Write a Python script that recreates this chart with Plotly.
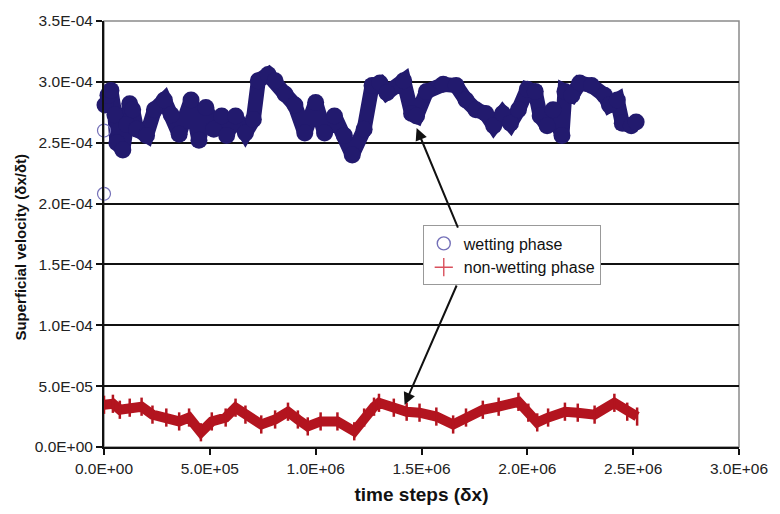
import plotly.graph_objects as go

# Time steps (δx) and superficial velocity (δx/δt) for the wetting phase
wet_t = [0, 0, 4.7e3, 18.7e3, 32.7e3, 51.4e3, 60.7e3, 88.8e3, 107.5e3, 121.5e3,
         135.5e3, 154.2e3, 200.9e3, 238.3e3, 285.0e3, 317.8e3, 355.1e3, 411.2e3, 448.6e3, 481.3e3,
         518.7e3, 556.1e3, 579.4e3, 621.5e3, 668.2e3, 705.6e3, 729.0e3, 775.7e3, 808.4e3, 855.1e3,
         901.9e3, 948.6e3, 1000.0e3, 1042.1e3, 1088.8e3, 1135.5e3, 1172.9e3, 1229.0e3, 1266.4e3, 1303.7e3,
         1336.4e3, 1415.9e3, 1453.3e3, 1476.6e3, 1523.4e3, 1602.8e3, 1663.6e3, 1710.3e3, 1757.0e3, 1803.7e3,
         1841.1e3, 1883.2e3, 1920.6e3, 1958.0e3, 2000.0e3, 2037.4e3, 2060.7e3, 2093.5e3, 2121.5e3, 2163.6e3,
         2177.6e3, 2210.3e3, 2247.7e3, 2303.7e3, 2364.5e3, 2387.9e3, 2425.2e3, 2448.6e3, 2490.7e3, 2514.0e3]
wet_v = [2.08e-4, 2.60e-4, 2.81e-4, 2.89e-4, 2.93e-4, 2.73e-4, 2.50e-4, 2.44e-4, 2.65e-4, 2.82e-4,
         2.77e-4, 2.61e-4, 2.56e-4, 2.77e-4, 2.85e-4, 2.73e-4, 2.57e-4, 2.85e-4, 2.52e-4, 2.79e-4,
         2.61e-4, 2.72e-4, 2.56e-4, 2.72e-4, 2.58e-4, 2.69e-4, 3.01e-4, 3.06e-4, 3.01e-4, 2.90e-4,
         2.81e-4, 2.58e-4, 2.83e-4, 2.58e-4, 2.72e-4, 2.56e-4, 2.40e-4, 2.61e-4, 2.97e-4, 2.99e-4,
         2.91e-4, 3.01e-4, 2.74e-4, 2.72e-4, 2.92e-4, 2.98e-4, 2.97e-4, 2.85e-4, 2.77e-4, 2.74e-4,
         2.64e-4, 2.74e-4, 2.66e-4, 2.77e-4, 2.94e-4, 2.92e-4, 2.72e-4, 2.64e-4, 2.77e-4, 2.56e-4,
         2.92e-4, 2.89e-4, 2.99e-4, 2.97e-4, 2.89e-4, 2.81e-4, 2.85e-4, 2.66e-4, 2.64e-4, 2.67e-4]

# Non-wetting phase
nw_t = [0, 42.1e3, 74.8e3, 121.5e3, 177.6e3, 229.0e3, 294.4e3, 355.1e3, 401.9e3, 457.9e3,
        509.3e3, 574.8e3, 621.5e3, 668.2e3, 742.9e3, 808.4e3, 869.2e3, 915.9e3, 962.6e3, 1023.4e3,
        1102.8e3, 1182.2e3, 1229.0e3, 1275.7e3, 1299.1e3, 1369.2e3, 1429.9e3, 1490.7e3, 1570.1e3, 1649.5e3,
        1710.3e3, 1789.7e3, 1864.5e3, 1958.0e3, 2004.7e3, 2046.7e3, 2098.1e3, 2177.6e3, 2238.3e3, 2317.8e3,
        2411.2e3, 2471.9e3, 2518.7e3]
nw_v = [3.47e-5, 3.55e-5, 3.06e-5, 3.23e-5, 3.31e-5, 2.66e-5, 2.42e-5, 2.10e-5, 2.42e-5, 1.21e-5,
        2.10e-5, 2.42e-5, 3.23e-5, 2.66e-5, 1.85e-5, 2.26e-5, 2.90e-5, 2.26e-5, 1.69e-5, 2.10e-5,
        2.10e-5, 1.29e-5, 2.42e-5, 3.31e-5, 3.63e-5, 3.23e-5, 2.90e-5, 2.82e-5, 2.50e-5, 1.85e-5,
        2.42e-5, 3.06e-5, 3.31e-5, 3.71e-5, 2.82e-5, 2.02e-5, 2.42e-5, 2.90e-5, 2.82e-5, 2.66e-5,
        3.63e-5, 2.90e-5, 2.50e-5]

x_ticks = [0, 5e5, 1e6, 1.5e6, 2e6, 2.5e6, 3e6]
x_labels = ["0.0E+00", "5.0E+05", "1.0E+06", "1.5E+06", "2.0E+06", "2.5E+06", "3.0E+06"]
y_ticks = [0, 5e-5, 1e-4, 1.5e-4, 2e-4, 2.5e-4, 3e-4, 3.5e-4]
y_labels = ["0.0E+00", "5.0E-05", "1.0E-04", "1.5E-04", "2.0E-04", "2.5E-04", "3.0E-04", "3.5E-04"]

NAVY = "#221a6e"
LAVENDER = "#7470b8"
RED = "#b3141f"
PINK = "#d9505c"
FONT = "Arial, Liberation Sans, sans-serif"

fig = go.Figure()

# dense wetting band
fig.add_trace(go.Scatter(
    x=wet_t[2:], y=wet_v[2:], mode="lines+markers",
    line=dict(color=NAVY, width=15),
    marker=dict(symbol="circle", size=17, color=NAVY),
    showlegend=False, cliponaxis=False, hoverinfo="skip"))
# isolated early samples
fig.add_trace(go.Scatter(
    x=wet_t[:2], y=wet_v[:2], mode="markers",
    marker=dict(symbol="circle-open", size=13, color=LAVENDER, line=dict(width=1.2)),
    showlegend=False, cliponaxis=False, hoverinfo="skip"))

# non-wetting band
fig.add_trace(go.Scatter(
    x=nw_t, y=nw_v, mode="lines+markers",
    line=dict(color=RED, width=10),
    marker=dict(symbol="line-ns-open", size=13, color=RED, line=dict(width=2.5, color=RED)),
    showlegend=False, cliponaxis=False, hoverinfo="skip"))

# legend entries
fig.add_trace(go.Scatter(
    x=[None], y=[None], mode="markers", name="wetting phase",
    marker=dict(symbol="circle-open", size=13, color=LAVENDER, line=dict(width=1.4))))
fig.add_trace(go.Scatter(
    x=[None], y=[None], mode="markers", name="non-wetting phase",
    marker=dict(symbol="cross-thin", size=13, color=PINK, line=dict(width=1.4, color=PINK))))

# plot area frame
fig.add_shape(type="rect", xref="paper", yref="paper", x0=0, y0=0, x1=1, y1=1,
              line=dict(color="#8a8a8a", width=1.5), layer="below")

# arrows from the legend to each band
for head, tail in [((1.477e6, 2.62e-4), (1.675e6, 1.79e-4)),
                   ((1.42e6, 3.47e-5), (1.669e6, 1.339e-4))]:
    fig.add_annotation(x=head[0], y=head[1], ax=tail[0], ay=tail[1],
                       xref="x", yref="y", axref="x", ayref="y",
                       text="", showarrow=True, arrowhead=2, arrowsize=1.2,
                       arrowwidth=2, arrowcolor="#111", standoff=0)

# vertical axis title
fig.add_annotation(text="<b>Superficial velocity (δx/δt)</b>", textangle=-90,
                   xref="paper", yref="paper", x=-0.131, y=0.47,
                   xanchor="center", yanchor="middle", showarrow=False,
                   font=dict(size=15, color="#111", family=FONT))

fig.update_layout(
    width=780, height=514,
    margin=dict(l=104, r=34, t=14, b=66),
    paper_bgcolor="white", plot_bgcolor="white",
    font=dict(family=FONT, color="#222", size=15),
    showlegend=True,
    legend=dict(x=0.502, y=0.52, xanchor="left", yanchor="top",
                bgcolor="white", bordercolor="#999", borderwidth=1,
                font=dict(size=16, color="#111", family=FONT),
                itemwidth=30, tracegroupgap=0),
    xaxis=dict(range=[0, 3e6], tickvals=x_ticks, ticktext=x_labels,
               showgrid=False, zeroline=False,
               showline=True, linecolor="#111", linewidth=2,
               ticks="outside", ticklen=6, tickwidth=2, tickcolor="#111",
               tickfont=dict(size=15.5, color="#222"),
               title=dict(text="<b>time steps (δx)</b>", font=dict(size=19, color="#111"), standoff=12)),
    yaxis=dict(range=[0, 3.5e-4], tickvals=y_ticks, ticktext=y_labels,
               showgrid=True, gridcolor="#111", gridwidth=1.6, zeroline=False,
               showline=True, linecolor="#111", linewidth=2,
               ticks="outside", ticklen=6, tickwidth=2, tickcolor="#111",
               tickfont=dict(size=15.5, color="#222")),
)

fig.write_html("out.html")
